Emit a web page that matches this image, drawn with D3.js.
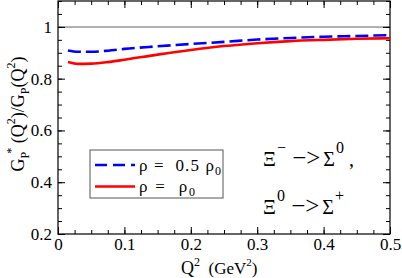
<!DOCTYPE html>
<html>
<head>
<meta charset="utf-8">
<script src="https://cdn.jsdelivr.net/npm/d3@7"></script>
<style>
  body { margin: 0; background: #fff; }
  svg text { font-family: 'Liberation Serif', 'Times New Roman', 'DejaVu Serif', serif; white-space: pre; }
</style>
</head>
<body>
<script>
// Q^2 values (GeV^2)
var q2 = [0.015, 0.03, 0.05, 0.075, 0.1, 0.15, 0.2, 0.25, 0.3, 0.35, 0.4, 0.45, 0.5];
// rho = 0.5 rho0
var halfRho = [0.909, 0.904, 0.904, 0.908, 0.915, 0.925, 0.934, 0.942, 0.951, 0.957, 0.962, 0.965, 0.968];
// rho = rho0
var fullRho = [0.864, 0.857, 0.858, 0.864, 0.873, 0.893, 0.911, 0.926, 0.937, 0.945, 0.950, 0.954, 0.956];

var xTicks = [0, 0.1, 0.2, 0.3, 0.4, 0.5];
var yTicks = [0.2, 0.4, 0.6, 0.8, 1];

var w = 402, h = 278;
var pLeft = 58, pRight = 390, pTop = 1, pBottom = 234;

var svg = d3.select("body").append("svg").attr("width", w).attr("height", h);

var x = d3.scaleLinear().domain([0, 0.5]).range([pLeft, pRight]);
var y = d3.scaleLinear().domain([0.2, 1.1]).range([pBottom, pTop]);

// reference line at 1
svg.append("line")
  .attr("x1", pLeft).attr("x2", pRight)
  .attr("y1", y(1)).attr("y2", y(1))
  .attr("stroke", "#999").attr("stroke-width", 1.5);

//minor and major ticks, all four sides, pointing inward
var xMinor = d3.range(0, 0.5001, 0.025);
var yMinor = d3.range(0.2, 1.1001, 0.05);

function addAxis(axis, tr) {
  var g = svg.append("g").attr("transform", tr).call(axis);
  g.attr("font-family", null).attr("font-size", 16);
  g.select(".domain").remove();
  g.selectAll("line").attr("stroke", "#000");
  return g;
}

addAxis(d3.axisBottom(x).tickValues(xMinor).tickSize(-4).tickFormat(""), "translate(0," + pBottom + ")");
addAxis(d3.axisTop(x).tickValues(xMinor).tickSize(-4).tickFormat(""), "translate(0," + pTop + ")");
addAxis(d3.axisLeft(y).tickValues(yMinor).tickSize(-4).tickFormat(""), "translate(" + pLeft + ",0)");
addAxis(d3.axisRight(y).tickValues(yMinor).tickSize(-4).tickFormat(""), "translate(" + pRight + ",0)");

var xb = addAxis(d3.axisBottom(x).tickValues(xTicks).tickSize(-7).tickPadding(4)
  .tickFormat(function (d) { return d === 0 ? "0" : d3.format(".1f")(d); }), "translate(0," + pBottom + ")");
addAxis(d3.axisTop(x).tickValues(xTicks).tickSize(-7).tickFormat(""), "translate(0," + pTop + ")");
var yl = addAxis(d3.axisLeft(y).tickValues(yTicks).tickSize(-7).tickPadding(6)
  .tickFormat(function (d) { return d === 1 ? "1" : d3.format(".1f")(d); }), "translate(" + pLeft + ",0)");
addAxis(d3.axisRight(y).tickValues(yTicks).tickSize(-7).tickFormat(""), "translate(" + pRight + ",0)");

xb.selectAll("text").attr("fill", "#000").attr("font-size", 17);
yl.selectAll("text").attr("fill", "#000").attr("font-size", 17);

// frame
svg.append("rect")
  .attr("x", pLeft).attr("y", pTop)
  .attr("width", pRight - pLeft).attr("height", pBottom - pTop)
  .attr("fill", "none").attr("stroke", "#000").attr("stroke-width", 1.2);

// curves
var line = d3.line()
  .x(function (d, i) { return x(q2[i]); })
  .y(function (d) { return y(d); })
  .curve(d3.curveMonotoneX);

svg.append("path").datum(fullRho)
  .attr("d", line).attr("fill", "none")
  .attr("stroke", "#ff0000").attr("stroke-width", 2.6);

svg.append("path").datum(halfRho)
  .attr("d", line).attr("fill", "none")
  .attr("stroke", "#0000ff").attr("stroke-width", 2.6)
  .attr("stroke-dasharray", "13,5");

// legend
var lg = svg.append("g");
lg.append("rect")
  .attr("x", 90).attr("y", 150).attr("width", 133).attr("height", 48)
  .attr("fill", "#fff").attr("stroke", "#555").attr("stroke-width", 1);
lg.append("line")
  .attr("x1", 95).attr("x2", 135).attr("y1", 165).attr("y2", 165)
  .attr("stroke", "#0000ff").attr("stroke-width", 2.6).attr("stroke-dasharray", "12,6");
lg.append("line")
  .attr("x1", 95).attr("x2", 135).attr("y1", 186.5).attr("y2", 186.5)
  .attr("stroke", "#ff0000").attr("stroke-width", 2.6);

var t1 = lg.append("text").attr("x", 139).attr("y", 171).attr("font-size", 17)
  .attr("textLength", 82).attr("lengthAdjust", "spacing");
t1.append("tspan").text("\u03C1 =  0.5 \u03C1");
t1.append("tspan").attr("font-size", 12).attr("dy", 4).text("0");
var t2 = lg.append("text").attr("x", 139).attr("y", 192).attr("font-size", 17)
  .attr("textLength", 56).attr("lengthAdjust", "spacing");
t2.append("tspan").text("\u03C1 =  \u03C1");
t2.append("tspan").attr("font-size", 12).attr("dy", 4).text("0");

// reaction labels
var r1 = svg.append("text").attr("x", 263).attr("y", 166).attr("font-size", 20);
r1.append("tspan").text("\u039E");
r1.append("tspan").attr("font-size", 16).attr("dy", -13).attr("dx", 1).text("\u2212");
r1.append("tspan").attr("dy", 13).attr("font-size", 25).text(" \u2212>");
r1.append("tspan").attr("dx", 3).text("\u03A3");
r1.append("tspan").attr("font-size", 16).attr("dy", -13).attr("dx", 1).text("0");
r1.append("tspan").attr("dy", 13).text(" ,");

var r2 = svg.append("text").attr("x", 263).attr("y", 214).attr("font-size", 20);
r2.append("tspan").text("\u039E");
r2.append("tspan").attr("font-size", 16).attr("dy", -13).attr("dx", 1).text("0");
r2.append("tspan").attr("dy", 13).attr("font-size", 25).text(" \u2212>");
r2.append("tspan").attr("dx", 3).text("\u03A3");
r2.append("tspan").attr("font-size", 16).attr("dy", -13).attr("dx", 1).text("+");

// x label
var xl = svg.append("text").attr("x", 181).attr("y", 274).attr("font-size", 18);
xl.append("tspan").text("Q");
xl.append("tspan").attr("font-size", 12).attr("dy", -8).text("2");
xl.append("tspan").attr("dy", 8).attr("font-size", 17).text("  (GeV");
xl.append("tspan").attr("font-size", 11).attr("dy", -8).text("2");
xl.append("tspan").attr("dy", 8).attr("font-size", 17).text(")");

// y label
var ylab = svg.append("text")
  .attr("transform", "translate(24,114) rotate(-90)")
  .attr("text-anchor", "middle").attr("font-size", 18);
ylab.append("tspan").text("G");
ylab.append("tspan").attr("font-size", 12).attr("dy", 5).text("P");
ylab.append("tspan").attr("font-size", 12).attr("dy", -14).attr("dx", -2).text("*");
ylab.append("tspan").attr("dy", 9).text(" (Q");
ylab.append("tspan").attr("font-size", 12).attr("dy", -9).text("2");
ylab.append("tspan").attr("dy", 9).text(")/G");
ylab.append("tspan").attr("font-size", 12).attr("dy", 5).text("P");
ylab.append("tspan").attr("dy", -5).text("(Q");
ylab.append("tspan").attr("font-size", 12).attr("dy", -9).text("2");
ylab.append("tspan").attr("dy", 9).text(")");
</script>
</body>
</html>
